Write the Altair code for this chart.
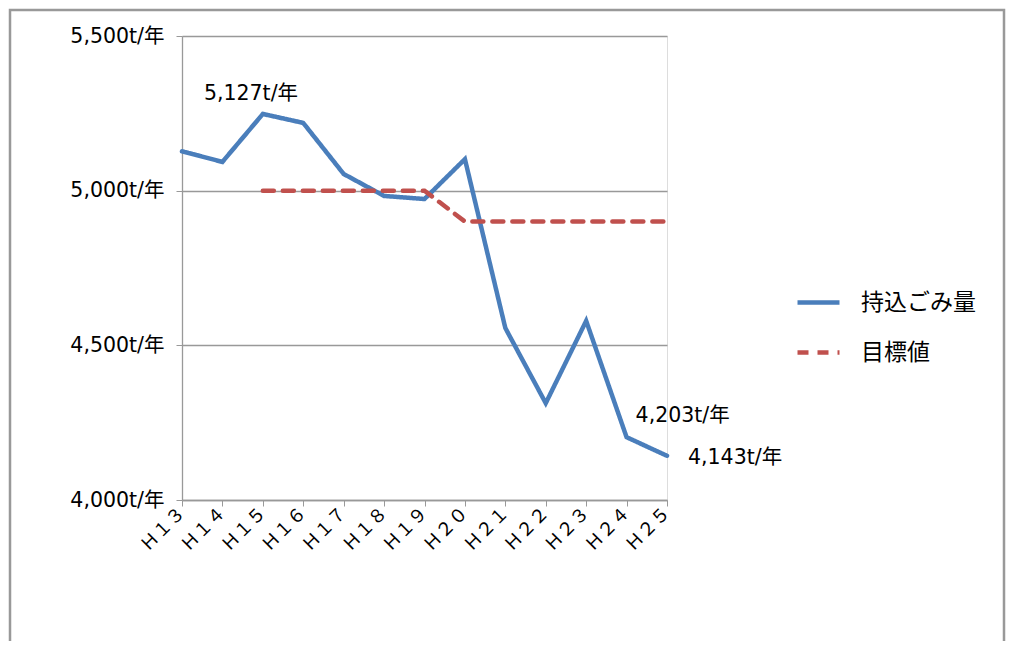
import altair as alt
import pandas as pd

years = ["Ｈ１３", "Ｈ１４", "Ｈ１５", "Ｈ１６", "Ｈ１７", "Ｈ１８", "Ｈ１９",
         "Ｈ２０", "Ｈ２１", "Ｈ２２", "Ｈ２３", "Ｈ２４", "Ｈ２５"]
actual = [5127, 5093, 5248, 5219, 5054, 4983, 4973, 5102, 4556, 4313, 4579, 4203, 4143]
target = [None, None, 5000, 5000, 5000, 5000, 5000, 4900, 4900, 4900, 4900, 4900, 4900]
series_names = ["持込ごみ量", "目標値"]

rows = []
for y, a in zip(years, actual):
    rows.append({"year": y, "value": a, "series": series_names[0]})
for y, t in zip(years, target):
    if t is not None:
        rows.append({"year": y, "value": t, "series": series_names[1]})
df = pd.DataFrame(rows)

ann_df = pd.DataFrame({
    "year": [years[0], years[11], years[12]],
    "value": [actual[0], actual[11], actual[12]],
    "label": ["5,127t/年", "4,203t/年", "4,143t/年"],
})

CJK = "Noto Sans CJK JP"
LATIN = "DejaVu Sans, Noto Sans CJK JP"

xenc = alt.X("year:N", sort=years, scale=alt.Scale(type="point", padding=0),
             axis=alt.Axis(title=None, labelAngle=-45, labelAlign="right",
                           labelBaseline="middle", labelFontSize=18, labelFont=CJK,
                           labelColor="#000", domainColor="#999", tickColor="#999",
                           tickSize=6, labelPadding=4, grid=False, domainWidth=1.3))
yenc = alt.Y("value:Q", scale=alt.Scale(domain=[4000, 5500], nice=False, zero=False),
             axis=alt.Axis(title=None, values=[4000, 4500, 5000, 5500],
                           labelExpr="format(datum.value, ',') + 't/年'",
                           labelFontSize=20.5, labelFont=LATIN, labelColor="#000",
                           domainColor="#999", tickColor="#999", tickSize=6,
                           labelPadding=12, gridColor="#999", gridWidth=1.3, domainWidth=1.3))

leg = dict(title=None, orient="none", legendX=613, legendY=243,
           symbolType="stroke", symbolSize=1764, symbolStrokeWidth=4.5,
           labelFontSize=23, labelFont=CJK, labelColor="#000",
           rowPadding=14, labelOffset=19)

lines = alt.Chart(df).mark_line(strokeWidth=4.5, strokeCap="round", strokeJoin="miter").encode(
    x=xenc, y=yenc,
    color=alt.Color("series:N", scale=alt.Scale(domain=series_names, range=["#4a7ebb", "#c0504d"]),
                    legend=alt.Legend(**leg)),
    strokeDash=alt.StrokeDash("series:N", scale=alt.Scale(domain=series_names, range=[[1, 0], [11, 9]]),
                              legend=alt.Legend(**leg)),
    detail="series:N",
)

def ann(i, dx, dy, align):
    return alt.Chart(ann_df.iloc[[i]]).mark_text(
        dx=dx, dy=dy, align=align, baseline="middle", fontSize=20.5, font=LATIN, color="#000"
    ).encode(x=alt.X("year:N", sort=years), y="value:Q", text="label:N")

frame = alt.Chart(pd.DataFrame({"a": [0]})).mark_rect(
    fill=None, stroke="#999", strokeWidth=2.5, clip=False
).encode(x=alt.value(-172), x2=alt.value(822), y=alt.value(-26), y2=alt.value(700))

chart = alt.layer(
    frame, lines,
    ann(0, 69, -57, "center"),
    ann(1, 9, -21, "left"),
    ann(2, 21, 2, "left"),
).properties(
    width=485, height=464,
    padding={"left": 174, "top": 28, "right": 342, "bottom": 141},
    autosize=alt.AutoSizeParams(type="none"),
).configure_view(stroke=None).configure(background="white")

chart.save("out.html", embed_options={"renderer": "svg", "actions": False})
